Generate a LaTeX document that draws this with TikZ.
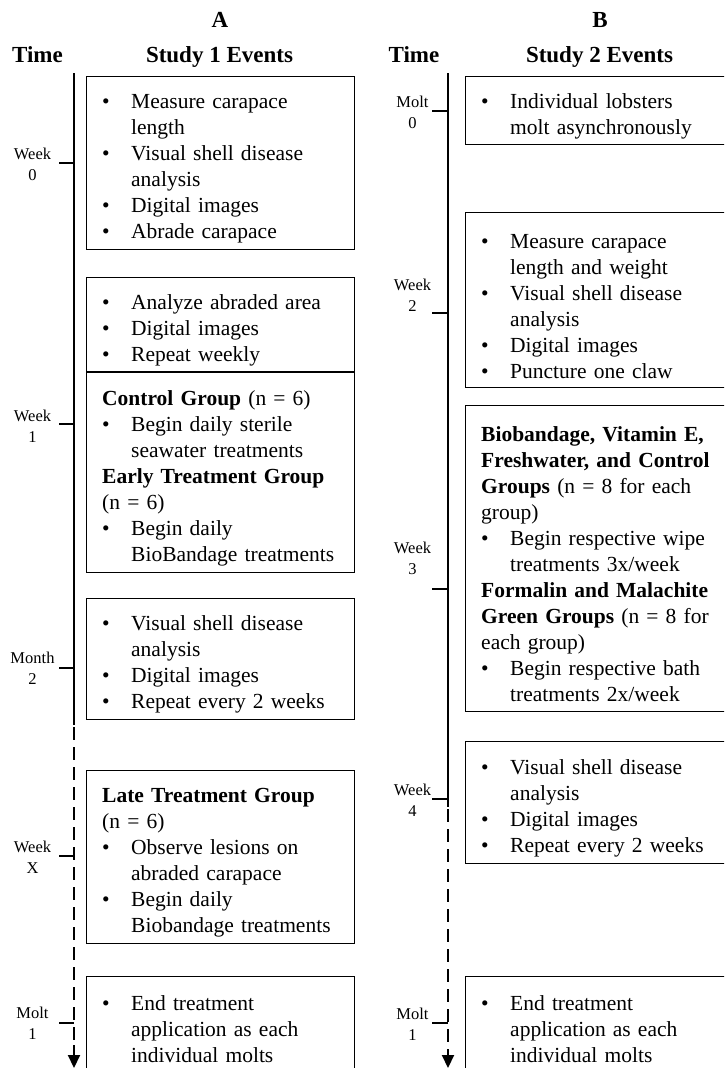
\documentclass[tikz,border=0pt]{standalone}
\usepackage{fontspec}
\setmainfont{Liberation Serif}
\usetikzlibrary{arrows.meta}
\newcommand{\bl}[1]{\par\noindent\hangindent=29pt\hangafter=1\makebox[29pt][l]{\textbullet}#1\par}
\newcommand{\hdl}[1]{\par\noindent #1\par}
\begin{document}
\begin{tikzpicture}[x=1pt,y=-1pt,
  box/.style={draw, line width=1.3pt, inner sep=0pt, anchor=north west},
  txt/.style={anchor=west, inner sep=0pt, text width=300pt, align=left,
    font=\fontsize{21.5pt}{26pt}\selectfont},
  hd/.style={font=\bfseries\fontsize{23pt}{27pt}\selectfont, anchor=base, inner sep=0pt},
  tl/.style={font=\fontsize{16.5pt}{21pt}\selectfont, align=center, inner sep=0pt},
  axis/.style={line width=2pt},
  tip/.style={line width=2pt, -{Triangle[width=12pt,length=13pt]}},
  tick/.style={line width=2pt}]
\useasboundingbox (0,0) rectangle (724,1068);
\clip (0,0) rectangle (724,1068);

% headers
\node[hd] (hA) at (220,27.5) {A};
\node[hd] (hS1) at (219.5,62) {Study 1 Events};
\node[hd] (hT1) at (37.5,62) {Time};
\node[hd] (hB) at (600,27.5) {B};
\node[hd] (hS2) at (599.5,62) {Study 2 Events};
\node[hd] (hT2) at (414,62) {Time};

% timelines
\coordinate (LA) at (74,73);
\coordinate (LB) at (74,725);
\coordinate (LD) at (74,1045);
\coordinate (LC) at (74,1068);
\draw[axis] (LA) -- (LB);
\foreach \k in {0,...,15}
  \fill ([xshift=-1.1pt,yshift={-(2+20*\k)*1pt}]LB) rectangle ([xshift=1.1pt,yshift={-(15+20*\k)*1pt}]LB);
\draw[tip] (LD) -- (LC);
\coordinate (RA) at (448,73);
\coordinate (RB) at (448,807);
\coordinate (RD) at (448,1049);
\coordinate (RC) at (448,1068);
\draw[axis] (RA) -- (RB);
\foreach \k in {0,...,11}
  \fill ([xshift=-1.1pt,yshift={-(2+20*\k)*1pt}]RB) rectangle ([xshift=1.1pt,yshift={-(15+20*\k)*1pt}]RB);
\draw[tip] (RD) -- (RC);

% left ticks
\coordinate (ta0) at (59,163);
\coordinate (ta1) at (59,424);
\coordinate (ta2) at (59,668);
\coordinate (ta3) at (59,856);
\coordinate (ta4) at (59,1023);
\foreach \t in {ta0,ta1,ta2,ta3,ta4} \draw[tick] (\t) -- (\t -| LA);
\node[tl] (la0) at (32.5,164.5) {Week\\0};
\node[tl] (la1) at (32.5,426.5) {Week\\1};
\node[tl] (la2) at (32.5,668.5) {Month\\2};
\node[tl] (la3) at (32.5,857.5) {Week\\X};
\node[tl] (la4) at (32.5,1023) {Molt\\1};

% right ticks
\coordinate (tb0) at (432,111);
\coordinate (tb1) at (432,313);
\coordinate (tb2) at (432,589);
\coordinate (tb3) at (432,799);
\coordinate (tb4) at (432,1023);
\foreach \t in {tb0,tb1,tb2,tb3,tb4} \draw[tick] (\t) -- (\t -| RA);
\node[tl] (lb0) at (412.5,112) {Molt\\0};
\node[tl] (lb1) at (412.5,295.5) {Week\\2};
\node[tl] (lb2) at (412.5,558.5) {Week\\3};
\node[tl] (lb3) at (412.5,800) {Week\\4};
\node[tl] (lb4) at (412.5,1024) {Molt\\1};

% left boxes
\node[box, minimum width=268pt, minimum height=173pt] (a1) at (86,76) {};
\node[txt] (a1t) at ([xshift=16pt]a1.west) {%
\bl{Measure carapace\newline length}
\bl{Visual shell disease\newline analysis}
\bl{Digital images}
\bl{Abrade carapace}};

\node[box, minimum width=268pt, minimum height=93.5pt] (a2) at (86,277) {};
\node[txt] (a2t) at ([xshift=16pt]a2.west) {%
\bl{Analyze abraded area}
\bl{Digital images}
\bl{Repeat weekly}};

\node[box, minimum width=268pt, minimum height=200pt] (a3) at (86,372) {};
\node[txt] (a3t) at ([xshift=16pt]a3.west) {%
\hdl{\textbf{Control Group} (n = 6)}
\bl{Begin daily sterile\newline seawater treatments}
\hdl{\textbf{Early Treatment Group}\newline (n = 6)}
\bl{Begin daily\newline BioBandage treatments}};

\node[box, minimum width=268pt, minimum height=121pt] (a4) at (86,598) {};
\node[txt] (a4t) at ([xshift=16pt]a4.west) {%
\bl{Visual shell disease\newline analysis}
\bl{Digital images}
\bl{Repeat every 2 weeks}};

\node[box, minimum width=268pt, minimum height=173pt] (a5) at (86,770) {};
\node[txt] (a5t) at ([xshift=16pt]a5.west) {%
\hdl{\textbf{Late Treatment Group}\newline (n = 6)}
\bl{Observe lesions on\newline abraded carapace}
\bl{Begin daily\newline Biobandage treatments}};

\node[box, minimum width=268pt, minimum height=94pt] (a6) at (86,976) {};
\node[txt] (a6t) at ([xshift=16pt]a6.west) {%
\bl{End treatment\newline application as each\newline individual molts}};

% right boxes
\node[box, minimum width=280pt, minimum height=68pt] (b1) at (465,76) {};
\node[txt] (b1t) at ([xshift=16pt]b1.west) {%
\bl{Individual lobsters\newline molt asynchronously}};

\node[box, minimum width=280pt, minimum height=175pt] (b2) at (465,212) {};
\node[txt] (b2t) at ([xshift=16pt]b2.west) {%
\bl{Measure carapace\newline length and weight}
\bl{Visual shell disease\newline analysis}
\bl{Digital images}
\bl{Puncture one claw}};

\node[box, minimum width=280pt, minimum height=306pt] (b3) at (465,405) {};
\node[txt] (b3t) at ([xshift=16pt]b3.west) {%
\hdl{\textbf{Biobandage, Vitamin E,}\newline \textbf{Freshwater, and Control}\newline \textbf{Groups} (n = 8 for each\newline group)}
\bl{Begin respective wipe\newline treatments 3x/week}
\hdl{\textbf{Formalin and Malachite}\newline \textbf{Green Groups} (n = 8 for\newline each group)}
\bl{Begin respective bath\newline treatments 2x/week}};

\node[box, minimum width=280pt, minimum height=122pt] (b4) at (465,741) {};
\node[txt] (b4t) at ([xshift=16pt]b4.west) {%
\bl{Visual shell disease\newline analysis}
\bl{Digital images}
\bl{Repeat every 2 weeks}};

\node[box, minimum width=280pt, minimum height=94pt] (b5) at (465,976) {};
\node[txt] (b5t) at ([xshift=16pt]b5.west) {%
\bl{End treatment\newline application as each\newline individual molts}};
\end{tikzpicture}
\end{document}
